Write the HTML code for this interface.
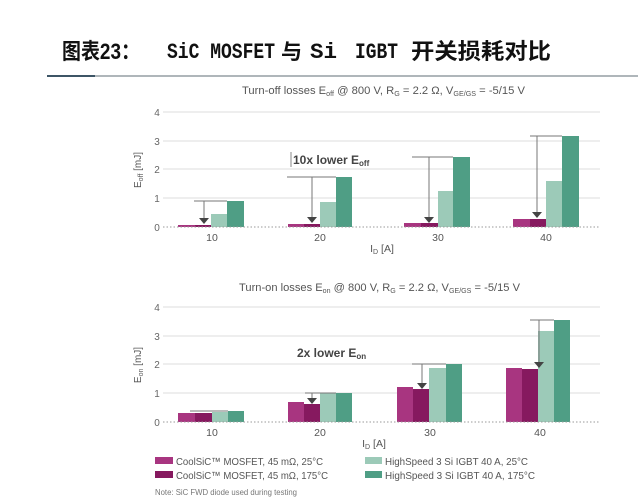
<!DOCTYPE html>
<html><head><meta charset="utf-8"><style>
html,body{margin:0;padding:0;background:#fff;}
svg{display:block;}
</style></head><body>
<svg width="640" height="498" viewBox="0 0 640 498" xmlns="http://www.w3.org/2000/svg">
<rect width="640" height="498" fill="#fff"/>
<!-- Title -->
<g font-weight="bold" fill="#111">
<text x="62" y="59" font-family="'Liberation Sans','Noto Sans CJK SC',sans-serif" font-size="22" textLength="78" lengthAdjust="spacingAndGlyphs">图表23：</text>
<text x="167" y="58" font-family="'Liberation Mono',monospace" font-size="22" textLength="108" lengthAdjust="spacingAndGlyphs">SiC MOSFET</text>
<text x="281" y="59" font-family="'Noto Sans CJK SC',sans-serif" font-size="21">与</text>
<text x="310" y="58" font-family="'Liberation Mono',monospace" font-size="22" textLength="27" lengthAdjust="spacingAndGlyphs">Si</text>
<text x="355" y="58" font-family="'Liberation Mono',monospace" font-size="22" textLength="43" lengthAdjust="spacingAndGlyphs">IGBT</text>
<text x="411" y="59" font-family="'Noto Sans CJK SC',sans-serif" font-size="22" textLength="140" lengthAdjust="spacingAndGlyphs">开关损耗对比</text>
</g>
<line x1="47" y1="76" x2="638" y2="76" stroke="#7f8a90" stroke-width="1.2"/>
<line x1="47" y1="76" x2="95" y2="76" stroke="#3d5566" stroke-width="2"/>

<!-- ===== Upper chart ===== -->
<text x="242" y="94" font-family="'Liberation Sans',sans-serif" font-size="11" fill="#555" textLength="283" lengthAdjust="spacingAndGlyphs">Turn-off losses E<tspan font-size="7" dy="2">off</tspan><tspan dy="-2"> @ 800 V, R</tspan><tspan font-size="7" dy="2">G</tspan><tspan dy="-2"> = 2.2 Ω, V</tspan><tspan font-size="7" dy="2">GE/GS</tspan><tspan dy="-2"> = -5/15 V</tspan></text>
<g stroke="#dedede" stroke-width="1">
<line x1="163" y1="112" x2="600" y2="112"/>
<line x1="163" y1="141" x2="600" y2="141"/>
<line x1="163" y1="169" x2="600" y2="169"/>
<line x1="163" y1="198" x2="600" y2="198"/>
</g>
<g font-family="'Liberation Sans',sans-serif" font-size="10" fill="#666" text-anchor="middle">
<text x="157" y="116">4</text><text x="157" y="145">3</text><text x="157" y="173">2</text><text x="157" y="202">1</text><text x="157" y="231">0</text>
</g>
<text transform="translate(141,170) rotate(-90)" font-family="'Liberation Sans',sans-serif" font-size="10" fill="#555" text-anchor="middle">E<tspan font-size="7" dy="2">off</tspan><tspan dy="-2"> [mJ]</tspan></text>
<g>
<rect x="178" y="225" width="17" height="2" fill="#a83580"/><rect x="195" y="225" width="16" height="2" fill="#86195f"/>
<rect x="211" y="214" width="16" height="13" fill="#9ccab8"/><rect x="227" y="201" width="17" height="26" fill="#4f9e85"/>
<rect x="288" y="224" width="16" height="3" fill="#a83580"/><rect x="304" y="224" width="16" height="3" fill="#86195f"/>
<rect x="320" y="202" width="16" height="25" fill="#9ccab8"/><rect x="336" y="177" width="16" height="50" fill="#4f9e85"/>
<rect x="404" y="223" width="17" height="4" fill="#a83580"/><rect x="421" y="223" width="17" height="4" fill="#86195f"/>
<rect x="438" y="191" width="15" height="36" fill="#9ccab8"/><rect x="453" y="157" width="17" height="70" fill="#4f9e85"/>
<rect x="513" y="219" width="17" height="8" fill="#a83580"/><rect x="530" y="219" width="16" height="8" fill="#86195f"/>
<rect x="546" y="181" width="16" height="46" fill="#9ccab8"/><rect x="562" y="136" width="17" height="91" fill="#4f9e85"/>
</g>
<line x1="163" y1="227" x2="600" y2="227" stroke="#999" stroke-width="1" stroke-dasharray="1.5,2"/>
<g stroke="#777" stroke-width="1" fill="none">
<line x1="194" y1="201" x2="227" y2="201"/><line x1="204" y1="201" x2="204" y2="218"/>
<line x1="287" y1="177" x2="336" y2="177"/><line x1="312" y1="177" x2="312" y2="217"/>
<line x1="412" y1="157" x2="453" y2="157"/><line x1="429" y1="157" x2="429" y2="217"/>
<line x1="530" y1="136" x2="562" y2="136"/><line x1="537" y1="136" x2="537" y2="212"/>
</g>
<g fill="#444">
<polygon points="199,218 209,218 204,224"/>
<polygon points="307,217 317,217 312,223"/>
<polygon points="424,217 434,217 429,223"/>
<polygon points="532,212 542,212 537,218"/>
</g>
<line x1="291" y1="152" x2="291" y2="167" stroke="#888" stroke-width="1"/>
<text x="293" y="164" font-family="'Liberation Sans',sans-serif" font-size="12" font-weight="bold" fill="#444">10x lower E<tspan font-size="8" dy="2">off</tspan></text>
<g font-family="'Liberation Sans',sans-serif" font-size="10.5" fill="#555" text-anchor="middle">
<text x="212" y="241">10</text><text x="320" y="241">20</text><text x="438" y="241">30</text><text x="546" y="241">40</text>
</g>
<text x="382" y="252" font-family="'Liberation Sans',sans-serif" font-size="10.5" fill="#555" text-anchor="middle">I<tspan font-size="7" dy="2">D</tspan><tspan dy="-2"> [A]</tspan></text>

<!-- ===== Lower chart ===== -->
<text x="239" y="291" font-family="'Liberation Sans',sans-serif" font-size="11" fill="#555" textLength="281" lengthAdjust="spacingAndGlyphs">Turn-on losses E<tspan font-size="7" dy="2">on</tspan><tspan dy="-2"> @ 800 V, R</tspan><tspan font-size="7" dy="2">G</tspan><tspan dy="-2"> = 2.2 Ω, V</tspan><tspan font-size="7" dy="2">GE/GS</tspan><tspan dy="-2"> = -5/15 V</tspan></text>
<g stroke="#dedede" stroke-width="1">
<line x1="163" y1="307" x2="600" y2="307"/>
<line x1="163" y1="336" x2="600" y2="336"/>
<line x1="163" y1="364" x2="600" y2="364"/>
<line x1="163" y1="393" x2="600" y2="393"/>
</g>
<g font-family="'Liberation Sans',sans-serif" font-size="10" fill="#666" text-anchor="middle">
<text x="157" y="311">4</text><text x="157" y="340">3</text><text x="157" y="368">2</text><text x="157" y="397">1</text><text x="157" y="426">0</text>
</g>
<text transform="translate(141,365) rotate(-90)" font-family="'Liberation Sans',sans-serif" font-size="10" fill="#555" text-anchor="middle">E<tspan font-size="7" dy="2">on</tspan><tspan dy="-2"> [mJ]</tspan></text>
<g>
<rect x="178" y="413" width="17" height="9" fill="#a83580"/><rect x="195" y="413" width="17" height="9" fill="#86195f"/>
<rect x="212" y="412" width="16" height="10" fill="#9ccab8"/><rect x="228" y="411" width="16" height="11" fill="#4f9e85"/>
<rect x="288" y="402" width="16" height="20" fill="#a83580"/><rect x="304" y="404" width="16" height="18" fill="#86195f"/>
<rect x="320" y="393" width="16" height="29" fill="#9ccab8"/><rect x="336" y="393" width="16" height="29" fill="#4f9e85"/>
<rect x="397" y="387" width="16" height="35" fill="#a83580"/><rect x="413" y="389" width="16" height="33" fill="#86195f"/>
<rect x="429" y="368" width="17" height="54" fill="#9ccab8"/><rect x="446" y="364" width="16" height="58" fill="#4f9e85"/>
<rect x="506" y="368" width="16" height="54" fill="#a83580"/><rect x="522" y="369" width="16" height="53" fill="#86195f"/>
<rect x="538" y="331" width="16" height="91" fill="#9ccab8"/><rect x="554" y="320" width="16" height="102" fill="#4f9e85"/>
</g>
<line x1="163" y1="422" x2="600" y2="422" stroke="#999" stroke-width="1" stroke-dasharray="1.5,2"/>
<g stroke="#777" stroke-width="1" fill="none">
<line x1="190" y1="411" x2="228" y2="411"/>
<line x1="305" y1="393" x2="336" y2="393"/><line x1="312" y1="393" x2="312" y2="398"/>
<line x1="412" y1="364" x2="446" y2="364"/><line x1="422" y1="364" x2="422" y2="383"/>
<line x1="530" y1="320" x2="554" y2="320"/><line x1="539" y1="320" x2="539" y2="362"/>
</g>
<g fill="#444">
<polygon points="307,398 317,398 312,404"/>
<polygon points="417,383 427,383 422,389"/>
<polygon points="534,362 544,362 539,368"/>
</g>
<text x="297" y="357" font-family="'Liberation Sans',sans-serif" font-size="12" font-weight="bold" fill="#444">2x lower E<tspan font-size="8" dy="2">on</tspan></text>
<g font-family="'Liberation Sans',sans-serif" font-size="10.5" fill="#555" text-anchor="middle">
<text x="212" y="436">10</text><text x="320" y="436">20</text><text x="430" y="436">30</text><text x="540" y="436">40</text>
</g>
<text x="374" y="447" font-family="'Liberation Sans',sans-serif" font-size="10.5" fill="#555" text-anchor="middle">I<tspan font-size="7" dy="2">D</tspan><tspan dy="-2"> [A]</tspan></text>

<!-- Legend -->
<rect x="155" y="457" width="18" height="7" fill="#a83580"/>
<rect x="155" y="471" width="18" height="7" fill="#86195f"/>
<rect x="365" y="457" width="17" height="7" fill="#9ccab8"/>
<rect x="365" y="471" width="17" height="7" fill="#4f9e85"/>
<g font-family="'Liberation Sans',sans-serif" font-size="10.5" fill="#555">
<text x="176" y="465" textLength="147" lengthAdjust="spacingAndGlyphs">CoolSiC™ MOSFET, 45 mΩ, 25°C</text>
<text x="176" y="479" textLength="152" lengthAdjust="spacingAndGlyphs">CoolSiC™ MOSFET, 45 mΩ, 175°C</text>
<text x="385" y="465" textLength="143" lengthAdjust="spacingAndGlyphs">HighSpeed 3 Si IGBT 40 A, 25°C</text>
<text x="385" y="479" textLength="150" lengthAdjust="spacingAndGlyphs">HighSpeed 3 Si IGBT 40 A, 175°C</text>
</g>
<text x="155" y="495" font-family="'Liberation Sans',sans-serif" font-size="8" fill="#777" textLength="142" lengthAdjust="spacingAndGlyphs">Note: SiC FWD diode used during testing</text>
</svg>
</body></html>
